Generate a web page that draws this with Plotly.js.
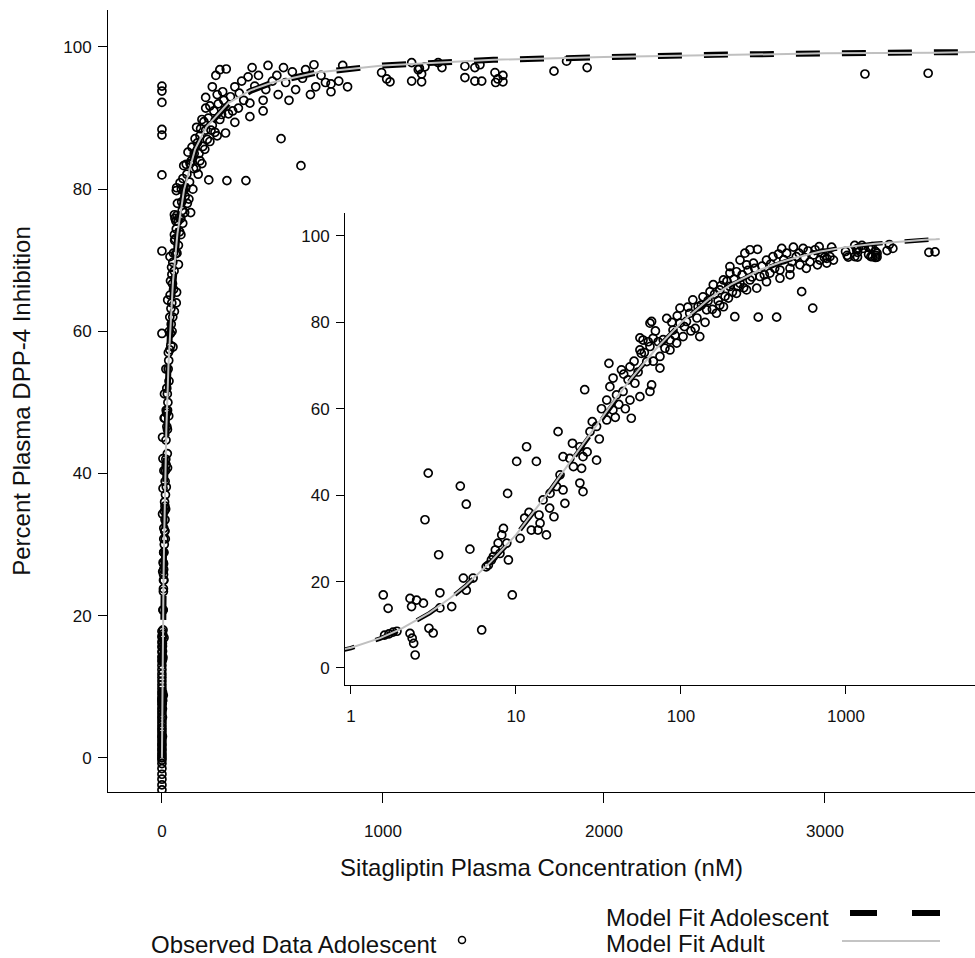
<!DOCTYPE html>
<html>
<head>
<meta charset="utf-8">
<script src="https://cdn.plot.ly/plotly-3.0.1.min.js"></script>
<style>html,body{margin:0;padding:0;background:#fff;}#chart{width:975px;height:958px;}</style>
</head>
<body>
<div id="chart"></div>
<script>
// ---------- Observed data (concentration nM, % inhibition) ----------
var obsConc = [
  // pre-dose / zero concentration samples
  0,0,0,0,0,0,0,0,0,0,0,0,0,0,0,0,0,0,0,0,0,0,0,0,0,0,0,0,0,0,0,0,0,0,0,0,0,0,0,0,0,
  0,0,0,0,0,
  0,0,0,0,0,0,0,0,
  // low concentrations
  1.57,1.68,1.6,1.7,1.8,1.9,2.28,2.5,2.75,2.33,2.28,2.35,2.4,2.45,2.94,2.81,2.97,3.15,3.46,3.46,3.4,4.08,4.6,5.0,5.26,4.8,5.5,5.0,6.2,
  6.8,7.1,7.5,7.8,8.2,8.4,8.8,9.0,8.0,7.3,6.6,8.9,9.5,10.1,11.6,13.3,
  10.6,11.3,12.4,13.8,13.6,15.3,14.6,16.1,17.6,19.3,19.8,18,18.5,19.3,21.2,22.3,24.4,25.5,25,24.4,25.5,30.8,26.1,28.1,30.8,35.5,38.7,35.5,40.7,49.1,36.6,38.8,37.1,43.6,52.6,49.1,50,56.4,64.9,57.5,66.4,58.9,67.8,72.8,63.3,66.4,47.8,44.6,
  12,14,16,17,22,27,29,32,33,40,42,46,
  // mid concentrations
  82,98.6,64.9,74.6,85.8,94.2,103,74.6,122,130,56.4,89.5,108,113,98.6,143,164,181,127,118,136,150,172,198,228,262,301,346,398,458,526,605,696,800,157,181,198,217,198,244,262,291,228,250,275,330,361,408,480,550,437,500,636,688,818,765,840,
  172,194,217,250,288,330,398,458,575,672,765,
  212,294,380,539,629,
  64.9,56.4,62,85.8,
  45,52,55,60,68,70,78,80,88,92,95,105,110,115,125,133,140,146,155,160,168,175,185,190,205,210,222,235,240,255,270,280,310,320,350,370,390,420,470,520,560,590,650,720,740,
  // high concentrations
  994,1017,1032,1130,1175,1160,1175,1190,1165,1130,1250,1267,1371,1416,1447,1371,1416,1439,1507,1520,1510,1543,1543,1831,1774,1924,3181,3467
];
var obsInhib = [
  -0.8,-0.3,0,0.3,0.6,1,1.3,1.7,2,2.4,2.8,3.1,3.5,3.9,4.2,4.6,5,5.4,5.8,6.2,6.6,7,7.5,8,8.4,8.9,9.3,9.8,10.3,10.8,11.3,11.8,12.4,13,13.6,14.2,14.9,15.6,16.3,17.1,17.8,
  -1.5,-2.3,-3.0,-3.8,-4.5,
  94.5,93.8,92.2,88.4,87.6,82,71.3,59.7,
  16.9,13.8,7.6,7.9,8.3,8.5,16.1,15.7,15.0,14.2,8.0,6.9,5.7,3.0,45.1,34.3,9.2,8.1,17.4,13.9,26.2,14.2,42.1,37.9,27.5,20.8,20.8,18,8.8,
  23.8,25,27.3,28.9,30.8,32.3,28.9,25,26.5,25.8,23.4,40.4,16.9,47.8,51.2,47.8,
  30,34.7,31.9,35.4,31.9,30.8,38.9,40.4,42,41.2,38.1,54.7,44.7,48.9,48.5,46.6,51.2,48.9,46.2,42.8,40.8,48.1,64.4,54.7,55.9,57.4,59.7,62,63.2,69.7,70.5,67.1,65.1,69,65.9,62,57.8,62.8,64,72.8,80.2,75.9,76.3,75.5,75.5,65.5,66.7,64,
  36,33.5,37,35,52,50,57,53,60,58,61,60,
  80.9,83.3,74.4,72.1,73.6,75.2,76.7,69.4,78.6,76.7,76.4,78.2,80.2,82.1,79.8,82.9,82.1,83.6,83.6,85.2,85.9,87.1,87.5,88.3,89,89.8,90.6,91.4,92.1,92.5,93.3,94,94.4,95.2,88.7,89.8,91.4,91.7,92.9,96,96.8,96.9,94.4,93.3,93.7,94.4,95.2,97.1,97.4,97.1,96,95.2,95.6,97.5,97.4,94.8,94.4,
  84,85.6,86.7,87.5,87.9,89.4,90.2,91,92.5,93.3,93.7,
  81.3,81.2,81.2,87.1,83.3,
  79.8,73.6,70.9,75.9,
  68,71,68.5,73,71,78,76,74,80,77,81.5,79,83.5,78,81,84,80,85,83,86.5,85,88.5,86,89.5,87,90,88.3,91,88,92,90.5,92.5,93,91,93.5,92.5,95.8,94.5,94,96,95,96.5,96.8,96,95,
  96.4,95.5,95.1,95.2,95.1,96.8,96.2,97.2,97.0,97.8,97.8,97.1,95.7,95.2,95.2,97.3,97.1,97.5,96.4,95.5,95.0,96.0,95.1,98.0,96.6,97.1,96.2,96.3
];

// ---------- Model fits ----------
var fitConc       = [0, 0.9, 1, 1.5, 2, 3, 4, 5, 7, 10, 15, 20, 30, 40, 50, 70, 100, 150, 200, 300, 400, 500, 700, 1000, 1500, 2000, 2500, 3000, 3500, 3700];
var fitAdolescent = [0, 4.2, 4.6, 6.8, 8.9, 12.7, 16.1, 19.1, 24.4, 30.7, 39.5, 46.1, 55.5, 62.1, 66.9, 73.6, 79.8, 85.5, 88.6, 92.0, 93.8, 95.0, 96.4, 97.4, 98.2, 98.6, 98.9, 99.1, 99.2, 99.3];
var fitAdult      = [0, 4.3, 4.7, 6.9, 9.0, 12.8, 16.2, 19.2, 24.5, 30.8, 39.6, 46.2, 55.6, 62.2, 67.0, 73.7, 79.9, 85.6, 88.7, 92.1, 93.9, 95.0, 96.4, 97.4, 98.2, 98.6, 98.9, 99.1, 99.2, 99.3];

// ---------- Ticks and labels ----------
var mainXTicks = [0, 1000, 2000, 3000];
var mainYTicks = [0, 20, 40, 60, 80, 100];
var insetXTicks = [1, 10, 100, 1000];
var insetXLabels = ['1', '10', '100', '1000'];
var insetYTicks = [0, 20, 40, 60, 80, 100];
var xTitle = 'Sitagliptin Plasma Concentration (nM)';
var yTitle = 'Percent Plasma DPP-4 Inhibition';
var legendLabels = ['Observed Data Adolescent', 'Model Fit Adolescent', 'Model Fit Adult'];

var FONT = '"Liberation Sans", Arial, Helvetica, sans-serif';
var markerStyle = {symbol: 'circle-open', size: 8, color: '#000', line: {width: 1.7, color: '#000'}};
var greyLine = {color: '#c0c0c0', width: 2};

function traces(xa, ya, dashWidth) {
  return [
    {x: obsConc, y: obsInhib, xaxis: xa, yaxis: ya, type: 'scatter', mode: 'markers', marker: markerStyle, name: legendLabels[0], showlegend: false},
    {x: fitConc, y: fitAdolescent, xaxis: xa, yaxis: ya, type: 'scatter', mode: 'lines', line: {color: '#000', width: dashWidth, dash: '24px,22px'}, name: legendLabels[1], showlegend: false},
    {x: fitConc, y: fitAdult, xaxis: xa, yaxis: ya, type: 'scatter', mode: 'lines', line: greyLine, name: legendLabels[2], showlegend: false}
  ];
}
var data = traces('x', 'y', 6).concat(traces('x2', 'y2', 4.5));

// helpers for paper coordinates (plot area: px 108..975, py 10..792)
function px(v) { return (v - 108) / 867; }
function py(v) { return (792 - v) / 782; }

var axisCommon = {
  showline: true, linecolor: '#000', linewidth: 1, mirror: false,
  ticks: 'outside', tickcolor: '#000', tickwidth: 1,
  showgrid: false, zeroline: false,
  tickfont: {family: FONT, size: 17, color: '#111'}
};

var layout = {
  width: 975, height: 958,
  margin: {l: 108, r: 0, t: 10, b: 166, pad: 0},
  paper_bgcolor: '#fff', plot_bgcolor: 'rgba(0,0,0,0)',
  showlegend: false,
  font: {family: FONT, color: '#111'},
  xaxis: Object.assign({}, axisCommon, {
    range: [-244, 3679], domain: [0, 1], anchor: 'y',
    tickvals: mainXTicks, ticklen: 10, ticklabelstandoff: 14,
    title: {text: xTitle, font: {family: FONT, size: 24, color: '#111'}, standoff: 18},
    automargin: false
  }),
  yaxis: Object.assign({}, axisCommon, {
    range: [-4.8, 105.2], domain: [0, 1], anchor: 'x',
    tickvals: mainYTicks, ticklen: 9, ticklabelstandoff: 3,
    title: {text: yTitle, font: {family: FONT, size: 24, color: '#111'}, standoff: 25},
    automargin: false
  }),
  xaxis2: Object.assign({}, axisCommon, {
    type: 'log', range: [-0.036, 3.782], domain: [px(345), 1], anchor: 'y2',
    tickvals: insetXTicks, ticktext: insetXLabels, ticklen: 8, ticklabelstandoff: 8,
    automargin: false
  }),
  yaxis2: Object.assign({}, axisCommon, {
    range: [-3.94, 105.3], domain: [py(685), py(213)], anchor: 'x2',
    tickvals: insetYTicks, ticklen: 8, ticklabelstandoff: 3,
    automargin: false
  }),
  annotations: [
    {xref: 'paper', yref: 'paper', x: px(150), y: py(944), xanchor: 'left', yanchor: 'middle', showarrow: false,
     height: 24, borderpad: 0,
     text: legendLabels[0], font: {family: FONT, size: 24, color: '#111'}},
    {xref: 'paper', yref: 'paper', x: px(605), y: py(917), xanchor: 'left', yanchor: 'middle', showarrow: false,
     height: 24, borderpad: 0,
     text: legendLabels[1], font: {family: FONT, size: 24, color: '#111'}},
    {xref: 'paper', yref: 'paper', x: px(605), y: py(943), xanchor: 'left', yanchor: 'middle', showarrow: false,
     height: 24, borderpad: 0,
     text: legendLabels[2], font: {family: FONT, size: 24, color: '#111'}}
  ],
  shapes: [
    {type: 'circle', xref: 'paper', yref: 'paper', x0: px(458.5), x1: px(465.5), y0: py(943.5), y1: py(936.5),
     line: {color: '#000', width: 1.5}},
    {type: 'line', xref: 'paper', yref: 'paper', x0: px(850), x1: px(877), y0: py(913), y1: py(913), line: {color: '#000', width: 6}},
    {type: 'line', xref: 'paper', yref: 'paper', x0: px(912), x1: px(940), y0: py(913), y1: py(913), line: {color: '#000', width: 6}},
    {type: 'line', xref: 'paper', yref: 'paper', x0: px(842), x1: px(940), y0: py(941), y1: py(941), line: {color: '#c4c4c4', width: 2}}
  ]
};

Plotly.newPlot('chart', data, layout, {staticPlot: true, displayModeBar: false});
</script>
</body>
</html>
